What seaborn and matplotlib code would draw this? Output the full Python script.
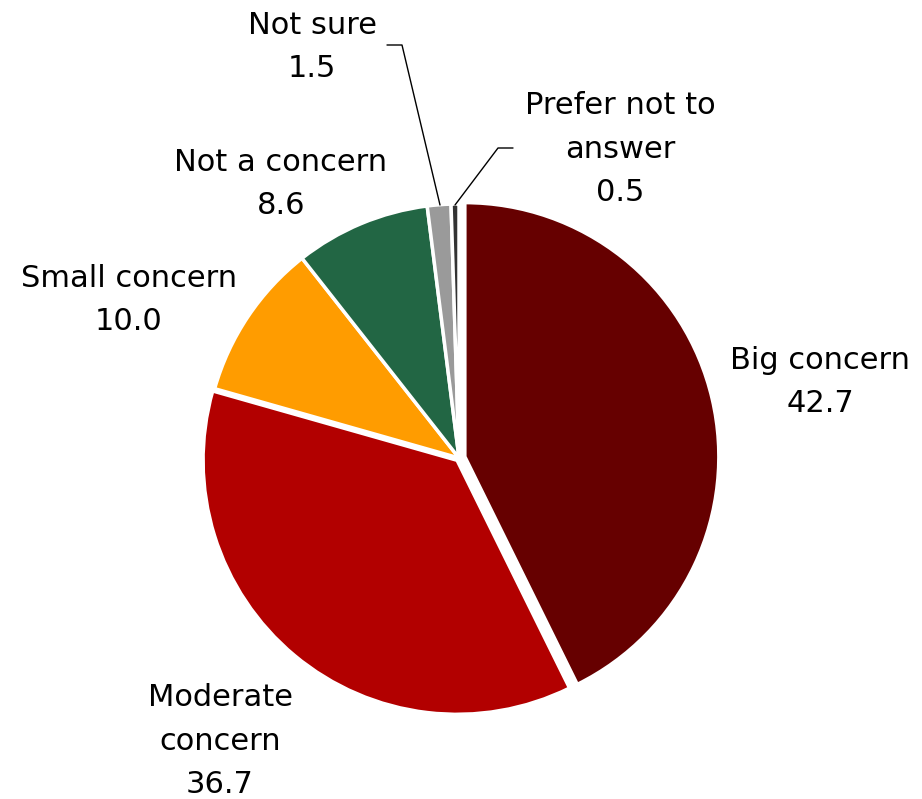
import matplotlib
matplotlib.use('Agg')
import matplotlib.pyplot as plt
import seaborn as sns

# data
categories = ['Big concern', 'Moderate\nconcern', 'Small concern', 'Not a concern', 'Not sure', 'Prefer not to\nanswer']
values = [42.7, 36.7, 10.0, 8.6, 1.5, 0.5]
colors = ['#660000', '#B20000', '#FF9C00', '#226644', '#9A9A9A', '#333333']

sns.set_theme(style='white')
plt.rcParams['font.family'] = ['DejaVu Sans']

fig = plt.figure(figsize=(9.22, 7.99), dpi=100)
ax = fig.add_axes([0, 0, 1, 1])

H = 799
cx, cy, r = 459, H - 458, 254
# explode is in data units here (pixels)
explode = [6, 3, 0, 0, 0, 0]
ax.pie(values, colors=colors, startangle=90, counterclock=False, explode=explode,
       center=(cx, cy), radius=r, wedgeprops=dict(edgecolor='white', linewidth=2.5))

ax.set_xlim(0, 922)
ax.set_ylim(0, H)
ax.set_aspect('equal')
ax.axis('off')

# label positions (pixel coords, top-left origin)
label_pos = [(820, 382), (220, 741), (129, 300), (281, 184), (312, 47), (620, 149)]
for cat, v, (x, y) in zip(categories, values, label_pos):
    ax.text(x, H - y, f'{cat}\n{v:.1f}', ha='center', va='center', fontsize=22,
            linespacing=1.65, color='black')

# leader lines for small slices
ax.plot([440, 402, 387], [H - 205, H - 45, H - 45], color='black', lw=1)
ax.plot([455, 498, 513], [H - 205, H - 148, H - 148], color='black', lw=1)

fig.savefig('out.png', dpi=100)
